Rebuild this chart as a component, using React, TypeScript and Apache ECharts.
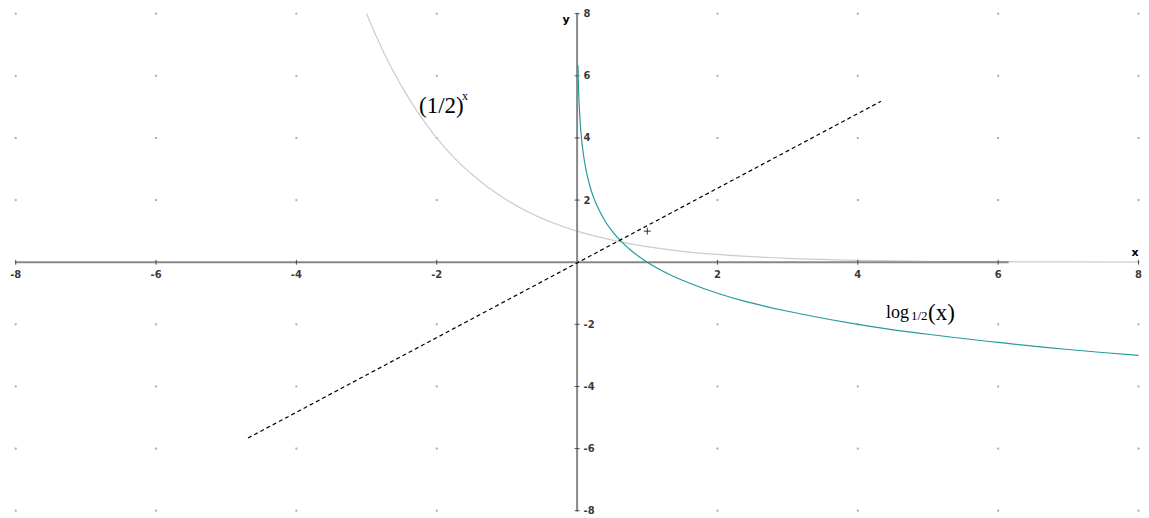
import React, { useEffect, useRef } from "react";
import * as echarts from "echarts";

// Axis ticks (both axes)
const tickValues = [-8, -6, -4, -2, 0, 2, 4, 6, 8];

// (1/2)^x curve
const expX = [-3, -2.75, -2.5, -2.25, -2, -1.75, -1.5, -1.25, -1, -0.75, -0.5, -0.25, 0, 0.5, 1, 1.5, 2, 2.5, 3, 3.5, 4, 5, 6, 7, 8];
const expY = [8, 6.73, 5.66, 4.76, 4, 3.36, 2.83, 2.38, 2, 1.68, 1.41, 1.19, 1, 0.71, 0.5, 0.35, 0.25, 0.18, 0.125, 0.09, 0.06, 0.03, 0.016, 0.008, 0.004];

// log_{1/2}(x) curve
const logX = [0.0124, 0.02, 0.03, 0.045, 0.06, 0.08, 0.1, 0.13, 0.17, 0.22, 0.3, 0.4, 0.5, 0.65, 0.8, 1, 1.25, 1.5, 2, 2.5, 3, 4, 5, 6, 7, 8];
const logY = [6.33, 5.64, 5.06, 4.47, 4.06, 3.64, 3.32, 2.94, 2.56, 2.18, 1.74, 1.32, 1, 0.62, 0.32, 0, -0.32, -0.58, -1, -1.32, -1.58, -2, -2.32, -2.58, -2.81, -3];

// dashed line endpoints
const dashX = [-4.69, 4.33];
const dashY = [-5.66, 5.18];

// marked point
const markPoint = [1, 1];

// dark axis segments
const xAxisSegX = [-8, 6.15];
const yAxisSegY = [-8, 8];

const zip = (a: number[], b: number[]) => a.map((v, i) => [v, b[i]]);

export default function App() {
  const ref = useRef<HTMLDivElement>(null);
  useEffect(() => {
    if (!ref.current) return;
    const chart = echarts.init(ref.current, undefined, { renderer: "svg" });
    const dots: number[][] = [];
    tickValues.forEach((x) => tickValues.forEach((y) => dots.push([x, y])));
    const labeled = tickValues.filter((v) => v !== 0);
    const labelFont = {
      fontFamily: "DejaVu Sans",
      fontWeight: "bold" as const,
      fontSize: 10,
      color: "#000",
    };
    const serif = '"Liberation Serif", "Times New Roman", serif';
    chart.setOption({
      animation: false,
      backgroundColor: "#fff",
      grid: { left: 15.7, right: 10.5, top: 13.7, bottom: 7.3 },
      xAxis: {
        type: "value",
        min: -8,
        max: 8,
        interval: 2,
        show: false,
      },
      yAxis: {
        type: "value",
        min: -8,
        max: 8,
        interval: 2,
        show: false,
      },
      graphic: [
        { type: "text", x: 419, y: 105, style: { text: "(1/2)", font: `23px ${serif}`, fill: "#000", textVerticalAlign: "middle", verticalAlign: "middle" } },
        { type: "text", x: 462, y: 96, style: { text: "x", font: `12px ${serif}`, fill: "#000", textVerticalAlign: "middle", verticalAlign: "middle" } },
        { type: "text", x: 886, y: 312, style: { text: "log", font: `18px ${serif}`, fill: "#000", textVerticalAlign: "middle", verticalAlign: "middle" } },
        { type: "text", x: 911, y: 315, style: { text: "1/2", font: `13px ${serif}`, fill: "#000", textVerticalAlign: "middle", verticalAlign: "middle" } },
        { type: "text", x: 928, y: 312, style: { text: "(x)", font: `23px ${serif}`, fill: "#000", textVerticalAlign: "middle", verticalAlign: "middle" } },
        { type: "text", x: 1135, y: 252, style: { text: "x", font: 'bold 11px "DejaVu Sans"', fill: "#000", textAlign: "center", align: "center", textVerticalAlign: "middle", verticalAlign: "middle" } },
        { type: "text", x: 566, y: 19, style: { text: "y", font: 'bold 11px "DejaVu Sans"', fill: "#000", textAlign: "center", align: "center", textVerticalAlign: "middle", verticalAlign: "middle" } },
      ],
      series: [
        {
          type: "scatter",
          data: dots,
          symbol: "rect",
          symbolSize: 2,
          itemStyle: { color: "#999" },
          silent: true,
          z: 1,
        },
        {
          type: "line",
          data: zip(expX, expY),
          showSymbol: false,
          smooth: true,
          lineStyle: { color: "#cccccc", width: 1.2 },
          z: 2,
        },
        {
          type: "line",
          data: xAxisSegX.map((x) => [x, 0]),
          showSymbol: false,
          lineStyle: { color: "#888", width: 2 },
          z: 3,
        },
        {
          type: "line",
          data: yAxisSegY.map((y) => [0, y]),
          showSymbol: false,
          lineStyle: { color: "#888", width: 2 },
          z: 3,
        },
        {
          type: "scatter",
          data: labeled.map((v) => [v, 0]),
          symbol: "rect",
          symbolSize: [1, 5],
          itemStyle: { color: "#333" },
          label: {
            show: true,
            position: "bottom",
            distance: 5,
            formatter: (p: any) => String(p.value[0]),
            ...labelFont,
          },
          z: 4,
        },
        {
          type: "scatter",
          data: labeled.map((v) => [0, v]),
          symbol: "rect",
          symbolSize: [5, 1],
          itemStyle: { color: "#333" },
          label: {
            show: true,
            position: "right",
            distance: 4,
            formatter: (p: any) => String(p.value[1]),
            ...labelFont,
          },
          z: 4,
        },
        {
          type: "line",
          data: zip(logX, logY),
          showSymbol: false,
          smooth: true,
          lineStyle: { color: "#259b9b", width: 1.2 },
          z: 5,
        },
        {
          type: "line",
          data: zip(dashX, dashY),
          showSymbol: false,
          lineStyle: { color: "#000", width: 1.2, type: [4, 3] },
          z: 5,
        },
        {
          type: "scatter",
          data: [markPoint],
          symbol: "path://M0,5L10,5M5,0L5,10",
          symbolSize: 7,
          itemStyle: { color: "none", borderColor: "#000", borderWidth: 1 },
          z: 6,
        },
      ],
    });
    return () => chart.dispose();
  }, []);
  return (
    <div
      ref={ref}
      style={{ position: "absolute", left: 0, top: 0, width: 1149, height: 518, background: "#fff" }}
    />
  );
}
